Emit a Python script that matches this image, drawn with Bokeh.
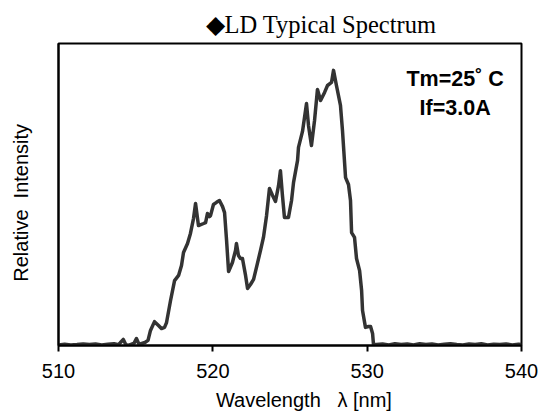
from bokeh.plotting import figure
from bokeh.models import Range1d, FixedTicker, Label
from bokeh.embed import file_html
from bokeh.resources import INLINE

# Data
wavelength = [
    510.0, 510.4, 510.8, 511.2, 511.6, 512.0, 512.4, 512.8, 513.2, 513.6, 513.9,
    514.0, 514.2, 514.35, 514.5, 514.7, 514.9, 515.05, 515.2, 515.3, 515.6, 515.8,
    515.96, 516.22, 516.48, 516.67, 516.87, 517.00, 517.26, 517.52, 517.78, 517.97,
    518.10, 518.36, 518.55, 518.75, 518.88, 519.07, 519.40, 519.53, 519.65, 519.78,
    519.85, 520.04, 520.24, 520.43, 520.63, 520.76, 520.89, 521.02, 521.27, 521.47,
    521.53, 521.66, 521.79, 521.92, 522.12, 522.25, 522.44, 522.64, 522.89, 523.09,
    523.28, 523.48, 523.67, 523.87, 524.06, 524.26, 524.38, 524.51, 524.64, 524.90,
    525.10, 525.23, 525.49, 525.55, 525.81, 526.07, 526.20, 526.39, 526.59, 526.78,
    526.98, 527.24, 527.43, 527.69, 527.82, 528.01, 528.27, 528.40, 528.60, 528.79,
    528.92, 528.99, 529.18, 529.31, 529.51, 529.64, 529.70, 529.89, 530.09, 530.22,
    530.35, 530.41,
    530.6, 531.0, 531.4, 531.8, 532.2, 532.6, 533.0, 533.4, 533.8, 534.2, 534.6,
    535.0, 535.4, 535.8, 536.2, 536.6, 537.0, 537.4, 537.8, 538.2, 538.6, 539.0,
    539.4, 539.8, 540.0,
]
intensity = [
    0.2, 0.4, 0.2, 0.3, 0.5, 0.3, 0.5, 0.2, 0.4, 0.6, 0.3,
    0.9, 2.0, 0.4, 0.0, 0.4, 0.8, 2.3, 0.6, 0.5, 1.0, 1.7,
    5.0, 7.9, 6.6, 5.6, 6.0, 7.6, 14.9, 21.5, 23.2, 26.5,
    30.8, 33.8, 37.1, 42.1, 47.0, 39.7, 40.4, 40.7, 43.7, 42.7,
    43.0, 46.7, 47.4, 48.0, 46.0, 44.0, 34.8, 24.5, 27.5, 31.5,
    33.8, 29.8, 28.8, 28.8, 23.2, 18.9, 20.2, 21.9, 27.2, 31.5,
    35.8, 43.0, 52.0, 49.7, 47.7, 53.0, 57.9, 49.7, 42.4, 42.4,
    48.0, 54.0, 61.3, 65.6, 70.9, 80.1, 72.8, 66.2, 74.5, 84.8,
    81.1, 83.8, 86.1, 87.1, 91.1, 86.1, 79.5, 71.2, 55.6, 53.3,
    48.0, 37.4, 35.8, 28.8, 24.8, 18.2, 11.6, 6.0, 6.3, 6.3,
    4.0, 0.3,
    0.3, 0.5, 0.2, 0.6, 0.3, 0.5, 0.2, 0.6, 0.3, 0.5, 0.2,
    0.4, 0.6, 0.3, 0.2, 0.5, 0.3, 0.6, 0.2, 0.4, 0.3, 0.5,
    0.2, 0.4, 0.3,
]
x_ticks = [510, 520, 530, 540]
title_text = "\u25c6LD Typical Spectrum"
x_label = "\u00a0\u00a0\u00a0\u00a0\u00a0Wavelength\u00a0\u00a0 \u03bb [nm]"
y_label = "Relative\u00a0 Intensity\u00a0\u00a0\u00a0"
note_lines = ["Tm=25\u02da C", "If=3.0A"]

p = figure(width=542, height=416, output_backend="svg", toolbar_location=None,
           x_range=Range1d(510, 540), y_range=Range1d(0, 100),
           min_border_left=58, min_border_right=21, min_border_top=43,
           min_border_bottom=71)

p.line(wavelength, intensity, line_color="#333333", line_width=3.5,
       line_join="round")

p.grid.visible = False
p.outline_line_color = "black"
p.outline_line_width = 2
p.background_fill_color = "white"
p.border_fill_color = "white"

p.title.text = title_text
p.title.text_font = "Liberation Serif"
p.title.text_font_size = "24.5px"
p.title.text_font_style = "normal"
p.title.text_color = "black"
p.title.align = "left"
p.title.offset = 147
p.title.standoff = 12

xa = p.xaxis[0]
xa.ticker = FixedTicker(ticks=x_ticks)
xa.minor_tick_line_color = None
xa.major_tick_in = 0
xa.major_tick_out = 6
xa.major_tick_line_width = 2
xa.axis_line_width = 2
xa.major_label_text_font = "Liberation Sans"
xa.major_label_text_font_size = "20px"
xa.major_label_text_color = "black"
xa.major_label_standoff = 12
xa.axis_label = x_label
xa.axis_label_text_font = "Liberation Sans"
xa.axis_label_text_font_size = "20px"
xa.axis_label_text_font_style = "normal"
xa.axis_label_text_color = "black"
xa.axis_label_standoff = 8

ya = p.yaxis[0]
ya.ticker = FixedTicker(ticks=[])
ya.minor_tick_line_color = None
ya.major_tick_out = 0
ya.major_tick_in = 0
ya.axis_line_width = 2
ya.axis_label = y_label
ya.axis_label_text_font = "Liberation Sans"
ya.axis_label_text_font_size = "20px"
ya.axis_label_text_font_style = "normal"
ya.axis_label_text_color = "black"
ya.axis_label_standoff = 27

for txt, yy in zip(note_lines, [88.4, 78.8]):
    p.add_layout(Label(x=535.7, y=yy, text=txt, text_align="center",
                       text_baseline="alphabetic", text_font="Liberation Sans",
                       text_font_style="bold", text_font_size="21.5px",
                       text_color="black"))

open("out.html", "w").write(file_html(p, INLINE))
